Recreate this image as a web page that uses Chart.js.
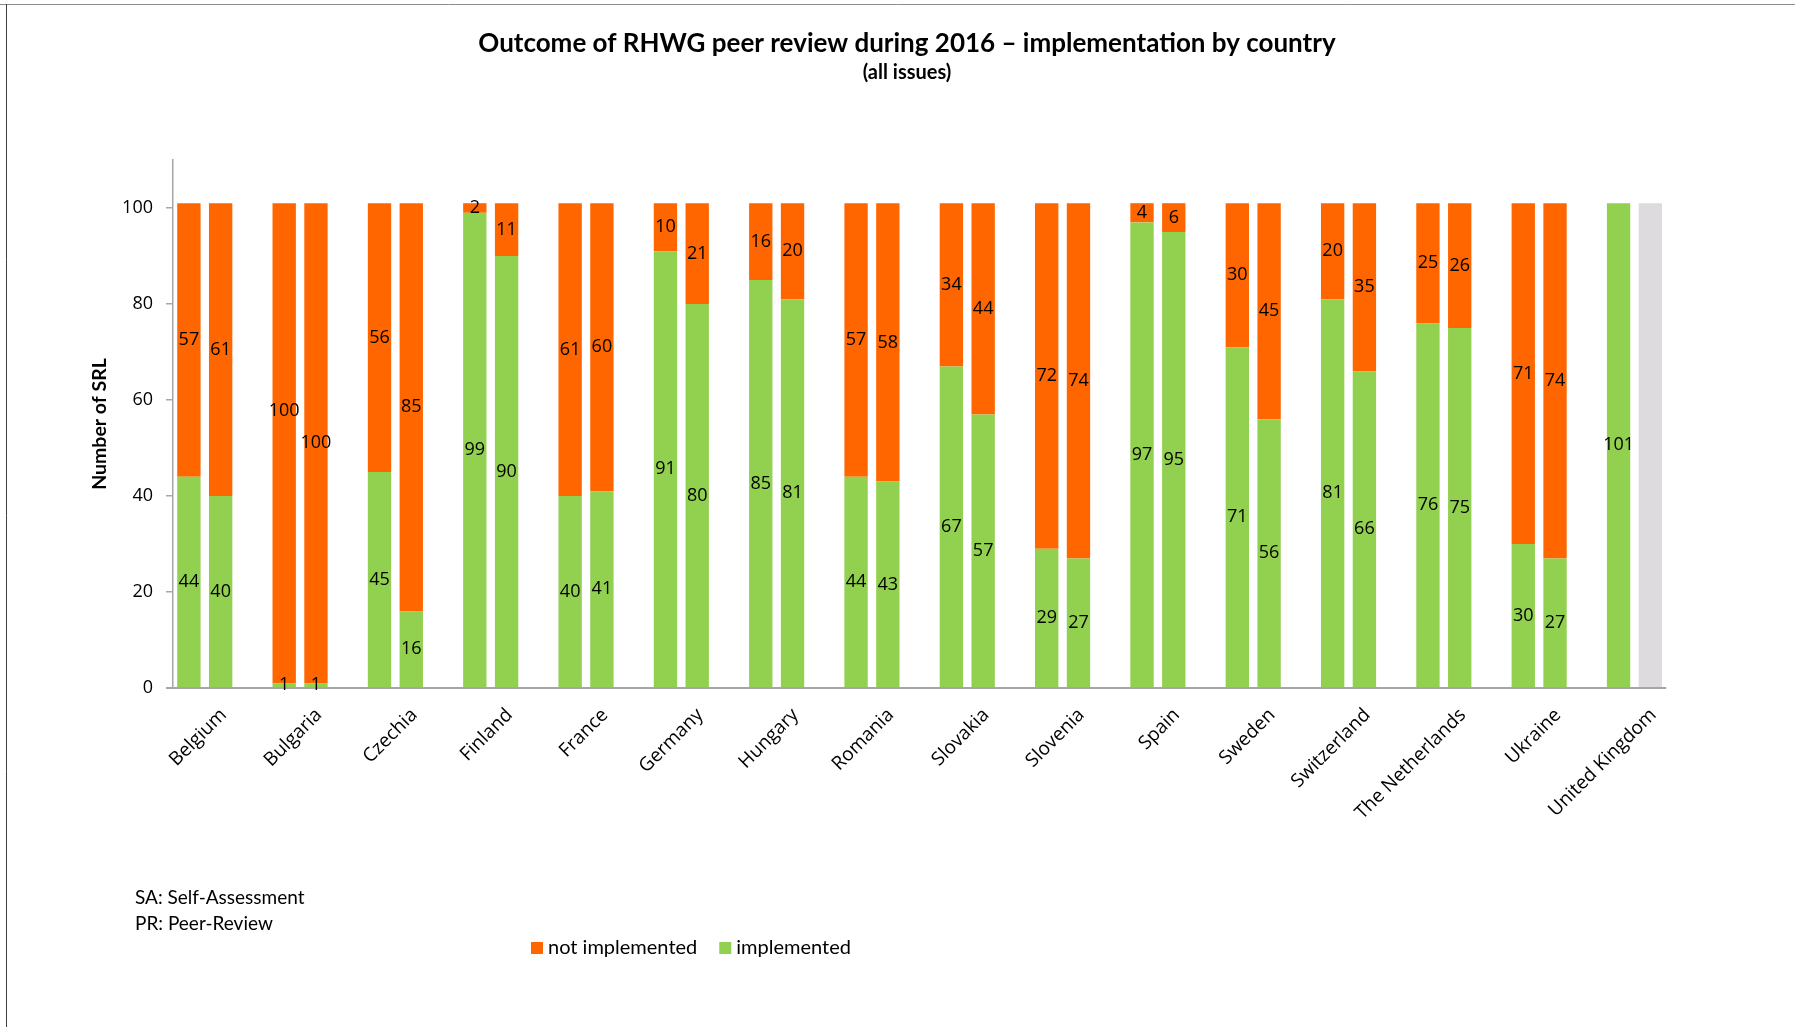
<!DOCTYPE html>
<html>
<head>
<meta charset="utf-8">
<script src="https://cdn.jsdelivr.net/npm/chart.js@4.4.1/dist/chart.umd.min.js"></script>
<style>
  html, body { margin: 0; padding: 0; background: #ffffff; }
  #wrap { position: relative; width: 1795px; height: 1027px; }
  canvas { display: block; }
</style>
</head>
<body>
<div id="wrap"><canvas id="c" width="1795" height="1027"></canvas></div>
<script>
// ---------------- data ----------------
const countries = ['Belgium', 'Bulgaria', 'Czechia', 'Finland', 'France', 'Germany', 'Hungary', 'Romania',
  'Slovakia', 'Slovenia', 'Spain', 'Sweden', 'Switzerland', 'The Netherlands', 'Ukraine', 'United Kingdom'];

// SA = Self-Assessment (left bar), PR = Peer-Review (right bar)
const saImplemented    = [44, 1, 45, 99, 40, 91, 85, 44, 67, 29, 97, 71, 81, 76, 30, 101];
const saNotImplemented = [57, 100, 56, 2, 61, 10, 16, 57, 34, 72, 4, 30, 20, 25, 71, null];
const prImplemented    = [40, 1, 16, 90, 41, 80, 81, 43, 57, 27, 95, 56, 66, 75, 27, null];
const prNotImplemented = [61, 100, 85, 11, 60, 21, 20, 58, 44, 74, 6, 45, 35, 26, 74, null];
const prNoData         = [null, null, null, null, null, null, null, null, null, null, null, null, null, null, null, 101];
const spacer           = [null, null, null, null, null, null, null, null, null, null, null, null, null, null, null, null];

const yTicks = [0, 20, 40, 60, 80, 100];
const yMax = 110;

const titleText = 'Outcome of RHWG peer review during 2016 \u2013 implementation by country';
const subtitleText = '(all issues)';
const yAxisTitle = 'Number of SRL';
const notes = ['SA: Self-Assessment', 'PR: Peer-Review'];

// ---------------- styles ----------------
const ORANGE = '#FF6600';
const GREEN = '#92D050';
const GREY = '#DDDBDE';
const AXIS = '#A6A6A6';
const NUM_FONT = '"Open Sans", "DejaVu Sans", sans-serif';
const TXT_FONT = 'Lato, "Open Sans", sans-serif';

const decorPlugin = {
  id: 'decor',
  beforeDraw(chart) {
    const ctx = chart.ctx;
    ctx.save();
    ctx.fillStyle = '#ffffff';
    ctx.fillRect(0, 0, chart.width, chart.height);
    // frame lines
    ctx.lineWidth = 1;
    ctx.strokeStyle = '#8C8C8C';
    ctx.beginPath(); ctx.moveTo(0, 4.5); ctx.lineTo(chart.width, 4.5); ctx.stroke();
    ctx.strokeStyle = '#404040';
    ctx.beginPath(); ctx.moveTo(6.5, 4); ctx.lineTo(6.5, chart.height); ctx.stroke();
    // title + subtitle
    ctx.fillStyle = '#000000';
    ctx.textAlign = 'center';
    ctx.textBaseline = 'middle';
    ctx.font = 'bold 26px ' + TXT_FONT;
    ctx.fillText(titleText, 907, 43.5);
    ctx.font = 'bold 20px ' + TXT_FONT;
    ctx.fillText(subtitleText, 907, 73);
    // notes
    ctx.textAlign = 'left';
    ctx.font = '19px ' + TXT_FONT;
    ctx.fillText(notes[0], 135, 898);
    ctx.fillText(notes[1], 135, 924);
    // legend (from datasets)
    const items = chart.data.datasets.filter(d => d.legendOrder !== undefined)
      .sort((a, b) => a.legendOrder - b.legendOrder);
    let x = 531;
    const cy = 948;
    ctx.font = '20px ' + TXT_FONT;
    items.forEach(d => {
      ctx.fillStyle = d.backgroundColor;
      ctx.fillRect(x, cy - 6, 12, 12);
      ctx.fillStyle = '#000000';
      ctx.fillText(d.label, x + 17, cy);
      x += 17 + ctx.measureText(d.label).width + 22;
    });
    ctx.restore();
  },
  afterDatasetsDraw(chart) {
    const ctx = chart.ctx;
    const xs = chart.scales.x;
    const area = chart.chartArea;
    ctx.save();
    // x axis line: ends at the right edge of the last (UK peer-review) slot
    const slot = (xs.width / countries.length) / 3;
    const xEnd = xs.getPixelForTick(countries.length - 1) + slot / 2;
    ctx.strokeStyle = AXIS;
    ctx.lineWidth = 2;
    ctx.beginPath(); ctx.moveTo(area.left - 7, area.bottom); ctx.lineTo(xEnd, area.bottom); ctx.stroke();
    // value labels, centred in each segment
    ctx.font = '18px ' + NUM_FONT;
    const labels = [];
    chart.data.datasets.forEach((ds, i) => {
      if (!ds.showValues) return;
      const meta = chart.getDatasetMeta(i);
      meta.data.forEach((el, j) => {
        const v = ds.data[j];
        if (v === null || v === undefined) return;
        const text = String(v);
        labels.push({ text, x: el.x, y: (el.y + el.base) / 2, w: ctx.measureText(text).width,
                      idx: j, stack: ds.stack, seg: ds.segment });
      });
    });
    // avoid collisions between side-by-side labels: lift the left (SA) label
    labels.forEach(a => {
      if (a.stack !== 'SA') return;
      labels.forEach(b => {
        if (b.stack !== 'PR' || b.idx !== a.idx) return;
        const overlapX = (a.x + a.w / 2) > (b.x - b.w / 2) - 2;
        const overlapY = Math.abs(a.y - b.y) < 22;
        if (overlapX && overlapY) a.y = Math.min(a.y, b.y - 32);
      });
    });
    ctx.fillStyle = '#000000';
    ctx.textAlign = 'center';
    ctx.textBaseline = 'middle';
    labels.forEach(l => ctx.fillText(l.text, l.x, l.y));
    ctx.restore();
  }
};

const datasets = [
  { label: 'implemented', data: saImplemented, backgroundColor: GREEN, stack: 'SA', showValues: true, legendOrder: 1 },
  { label: 'not implemented', data: saNotImplemented, backgroundColor: ORANGE, stack: 'SA', showValues: true, legendOrder: 0 },
  { label: 'implemented (PR)', data: prImplemented, backgroundColor: GREEN, stack: 'PR', showValues: true },
  { label: 'not implemented (PR)', data: prNotImplemented, backgroundColor: ORANGE, stack: 'PR', showValues: true },
  { label: 'no data', data: prNoData, backgroundColor: GREY, stack: 'PR', showValues: false },
  { label: 'spacer', data: spacer, backgroundColor: 'rgba(0,0,0,0)', stack: 'gap', showValues: false }
];

function build() {
  new Chart(document.getElementById('c'), {
    type: 'bar',
    data: { labels: countries, datasets: datasets },
    options: {
      responsive: false,
      animation: false,
      devicePixelRatio: 1,
      datasets: { bar: { categoryPercentage: 1.0, barPercentage: 0.735, borderWidth: 0 } },
      layout: { padding: { top: 160, right: 97, bottom: 159, left: 0 } },
      plugins: { legend: { display: false }, title: { display: false }, tooltip: { enabled: false } },
      scales: {
        x: {
          stacked: true,
          offset: true,
          afterFit: s => { s.height = 180; },
          grid: { display: false, drawTicks: false },
          border: { display: false },
          ticks: { autoSkip: false, minRotation: 45, maxRotation: 45, padding: 16, labelOffset: 3,
                   color: '#000000', font: { family: NUM_FONT, size: 19 } }
        },
        y: {
          stacked: true,
          min: 0,
          max: yMax,
          afterBuildTicks: s => { s.ticks = yTicks.map(v => ({ value: v })); },
          afterFit: s => { s.width = 173; },
          grid: { drawOnChartArea: false, drawTicks: true, tickLength: 7, color: AXIS, lineWidth: 1.5 },
          border: { display: true, color: AXIS, width: 1.5 },
          ticks: { padding: 13, color: '#000000', font: { family: NUM_FONT, size: 18 } },
          title: { display: true, text: yAxisTitle, color: '#000000',
                   font: { family: TXT_FONT, weight: 'bold', size: 19.5 }, padding: { top: 88, bottom: 0 } }
        }
      }
    },
    plugins: [decorPlugin]
  });
}

const fontLoads = [
  '18px "Open Sans"', '19px Lato', 'bold 26px Lato'
].map(f => (document.fonts && document.fonts.load) ? document.fonts.load(f).catch(() => null) : Promise.resolve());
Promise.all(fontLoads).then(build, build);
</script>
</body>
</html>
